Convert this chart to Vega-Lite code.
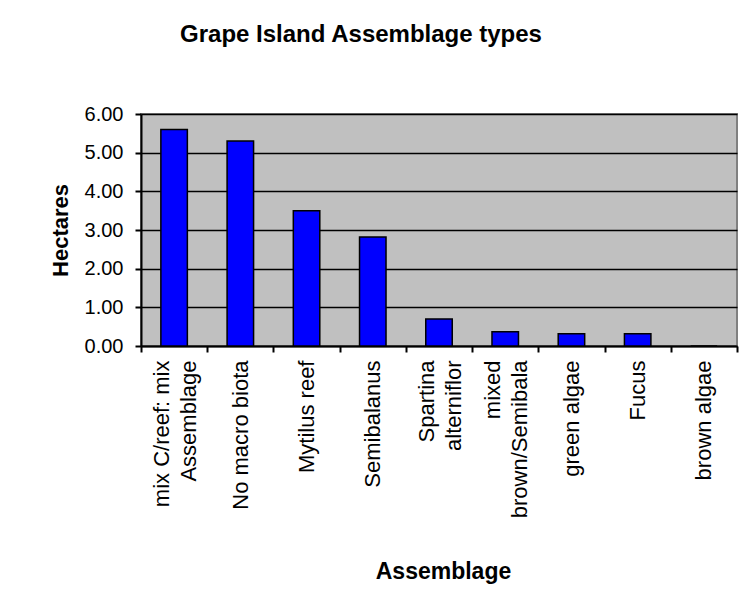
{
  "$schema": "https://vega.github.io/schema/vega-lite/v6.json",
  "autosize": {"type": "none"},
  "width": 596,
  "height": 232,
  "padding": {"left": 141, "top": 114, "right": 16, "bottom": 246},
  "background": "white",
  "title": {
    "text": "Grape Island Assemblage types",
    "anchor": "middle",
    "dx": -78,
    "offset": 57,
    "font": "Liberation Sans",
    "fontSize": 24,
    "fontWeight": "bold",
    "color": "black"
  },
  "data": {
    "values": [
      {"Assemblage": "mix C/reef: mix Assemblage", "Hectares": 5.6},
      {"Assemblage": "No macro biota", "Hectares": 5.3},
      {"Assemblage": "Mytilus reef", "Hectares": 3.5},
      {"Assemblage": "Semibalanus", "Hectares": 2.82},
      {"Assemblage": "Spartina alterniflor", "Hectares": 0.7},
      {"Assemblage": "mixed brown/Semibala", "Hectares": 0.37},
      {"Assemblage": "green algae", "Hectares": 0.32},
      {"Assemblage": "Fucus", "Hectares": 0.32},
      {"Assemblage": "brown algae", "Hectares": 0}
    ]
  },
  "mark": {"type": "bar", "fill": "#0000FF", "stroke": "black", "strokeWidth": 1.5, "width": {"band": 0.4}},
  "encoding": {
    "x": {
      "field": "Assemblage",
      "type": "nominal",
      "sort": null,
      "scale": {"paddingInner": 0, "paddingOuter": 0},
      "axis": {
        "title": "Assemblage",
        "titleFont": "Liberation Sans",
        "titleFontSize": 23,
        "titleFontWeight": "bold",
        "titleColor": "black",
        "titleX": 302,
        "titleY": 225,
        "titleBaseline": "middle",
        "titleAlign": "center",
        "labelAngle": -90,
        "labelAlign": "right",
        "labelBaseline": "middle",
        "labelFont": "Liberation Sans",
        "labelFontSize": 22,
        "labelColor": "black",
        "labelLineHeight": 27,
        "labelPadding": 8,
        "labelOffset": {"condition": {"test": "datum.value == 'mix C/reef: mix Assemblage' || datum.value == 'Spartina alterniflor' || datum.value == 'mixed brown/Semibala'", "value": -13}, "value": 0},
        "labelExpr": "datum.label == 'mix C/reef: mix Assemblage' ? ['mix C/reef: mix', 'Assemblage'] : datum.label == 'Spartina alterniflor' ? ['Spartina', 'alterniflor'] : datum.label == 'mixed brown/Semibala' ? ['mixed', 'brown/Semibala'] : datum.label",
        "labelLimit": 300,
        "tickBand": "extent",
        "tickSize": 6,
        "tickWidth": 2,
        "tickColor": "black",
        "domainColor": "black",
        "domainWidth": 2,
        "grid": false
      }
    },
    "y": {
      "field": "Hectares",
      "type": "quantitative",
      "scale": {"domain": [0, 6], "nice": false},
      "axis": {
        "title": "Hectares",
        "titleFont": "Liberation Sans",
        "titleFontSize": 22,
        "titleFontWeight": "bold",
        "titleColor": "black",
        "titleX": -81,
        "titleY": 116,
        "titleAngle": -90,
        "titleAlign": "center",
        "titleBaseline": "middle",
        "values": [0, 1, 2, 3, 4, 5, 6],
        "format": ".2f",
        "labelFont": "Liberation Sans",
        "labelFontSize": 20,
        "labelColor": "black",
        "labelPadding": 12,
        "tickSize": 6,
        "tickWidth": 2,
        "tickColor": "black",
        "domainColor": "black",
        "domainWidth": 2,
        "grid": true,
        "gridColor": "black",
        "gridWidth": 1.5,
        "gridOpacity": 1
      }
    }
  },
  "config": {
    "view": {"fill": "#C0C0C0", "stroke": "#808080", "strokeWidth": 2}
  }
}
